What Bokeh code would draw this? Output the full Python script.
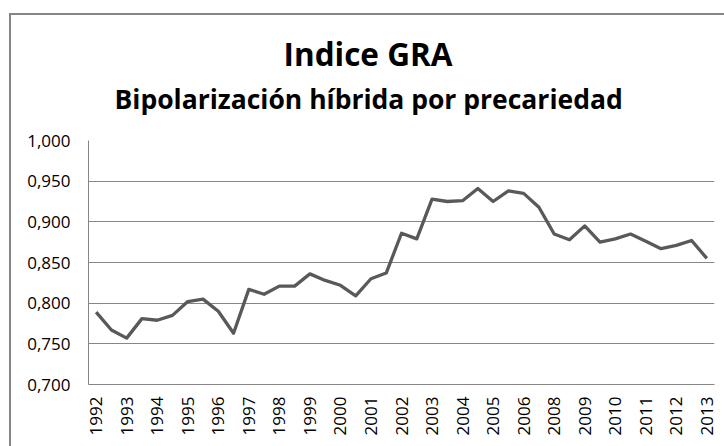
import math
from bokeh.plotting import figure
from bokeh.models import FixedTicker, Title, Range1d
from bokeh.embed import file_html
from bokeh.resources import INLINE

# ---- data ----
title_text = "Indice GRA"
subtitle_text = "Bipolarización híbrida por precariedad"

gra_values = [
    0.789, 0.767, 0.757, 0.781, 0.779, 0.785, 0.802, 0.805, 0.790, 0.763,
    0.817, 0.811, 0.821, 0.821, 0.836, 0.828, 0.822, 0.809, 0.830, 0.837,
    0.886, 0.879, 0.928, 0.925, 0.926, 0.941, 0.925, 0.938, 0.935, 0.918,
    0.885, 0.878, 0.895, 0.875, 0.879, 0.885, 0.876, 0.867, 0.871, 0.877,
    0.855,
]
year_labels = ["1992", "1993", "1994", "1995", "1996", "1997", "1998", "1999",
               "2000", "2001", "2002", "2003", "2004", "2005", "2006", "2008",
               "2009", "2010", "2011", "2012", "2013"]
y_ticks = [0.70, 0.75, 0.80, 0.85, 0.90, 0.95, 1.00]
y_tick_labels = ["0,700", "0,750", "0,800", "0,850", "0,900", "0,950", "1,000"]

x_idx = list(range(len(gra_values)))
label_positions = [2 * i for i in range(len(year_labels))]

# ---- figure ----
W, H = 724, 446
ML, MR, MT, MB = 88, 10, 140, 62
p = figure(width=W, height=H, output_backend="svg", toolbar_location=None,
           x_range=Range1d(-0.5, len(gra_values) - 0.5),
           y_range=Range1d(0.70, 1.00),
           min_border_left=ML, min_border_right=MR,
           min_border_top=MT, min_border_bottom=MB)
p.outline_line_color = None
p.background_fill_color = "white"
p.border_fill_alpha = 0
# chart-area border (cropped at right and bottom in the reference)
p.styles = {
    "background": ("linear-gradient(#868686,#868686) 9px 13px / 2px 100% no-repeat, "
                   "linear-gradient(#868686,#868686) 9px 13px / 100% 2px no-repeat, white"),
}

p.line(x_idx, gra_values, line_color="#595959", line_width=3.3, line_join="round")

# axes
p.xaxis.ticker = FixedTicker(ticks=label_positions)
p.xaxis.major_label_overrides = {pos: lab for pos, lab in zip(label_positions, year_labels)}
p.xaxis.major_label_orientation = math.pi / 2
p.yaxis.ticker = FixedTicker(ticks=y_ticks)
p.yaxis.major_label_overrides = {t: lab for t, lab in zip(y_ticks, y_tick_labels)}
for ax in (p.xaxis[0], p.yaxis[0]):
    ax.axis_line_color = "#868686"
    ax.axis_line_width = 1
    ax.major_tick_line_color = None
    ax.minor_tick_line_color = None
    ax.major_tick_out = 0
    ax.major_tick_in = 0
    ax.major_label_text_font = "Open Sans"
    ax.major_label_text_font_size = "17px"
    ax.major_label_text_color = "#000000"
p.xaxis.major_label_standoff = 12
p.yaxis.major_label_standoff = 18

p.xgrid.grid_line_color = None
p.ygrid.ticker = FixedTicker(ticks=y_ticks)
p.ygrid.grid_line_color = "#868686"
p.ygrid.grid_line_width = 1

# titles (added nearest-first)
p.add_layout(Title(text=subtitle_text, align="left", offset=26, standoff=47,
                   text_font="Open Sans", text_font_style="bold",
                   text_font_size="26.5px", text_color="#000000"), "above")
p.add_layout(Title(text=title_text, align="left", offset=195, standoff=-38,
                   text_font="Open Sans", text_font_style="bold",
                   text_font_size="31.5px", text_color="#000000"), "above")

open("out.html", "w").write(file_html(p, INLINE))
